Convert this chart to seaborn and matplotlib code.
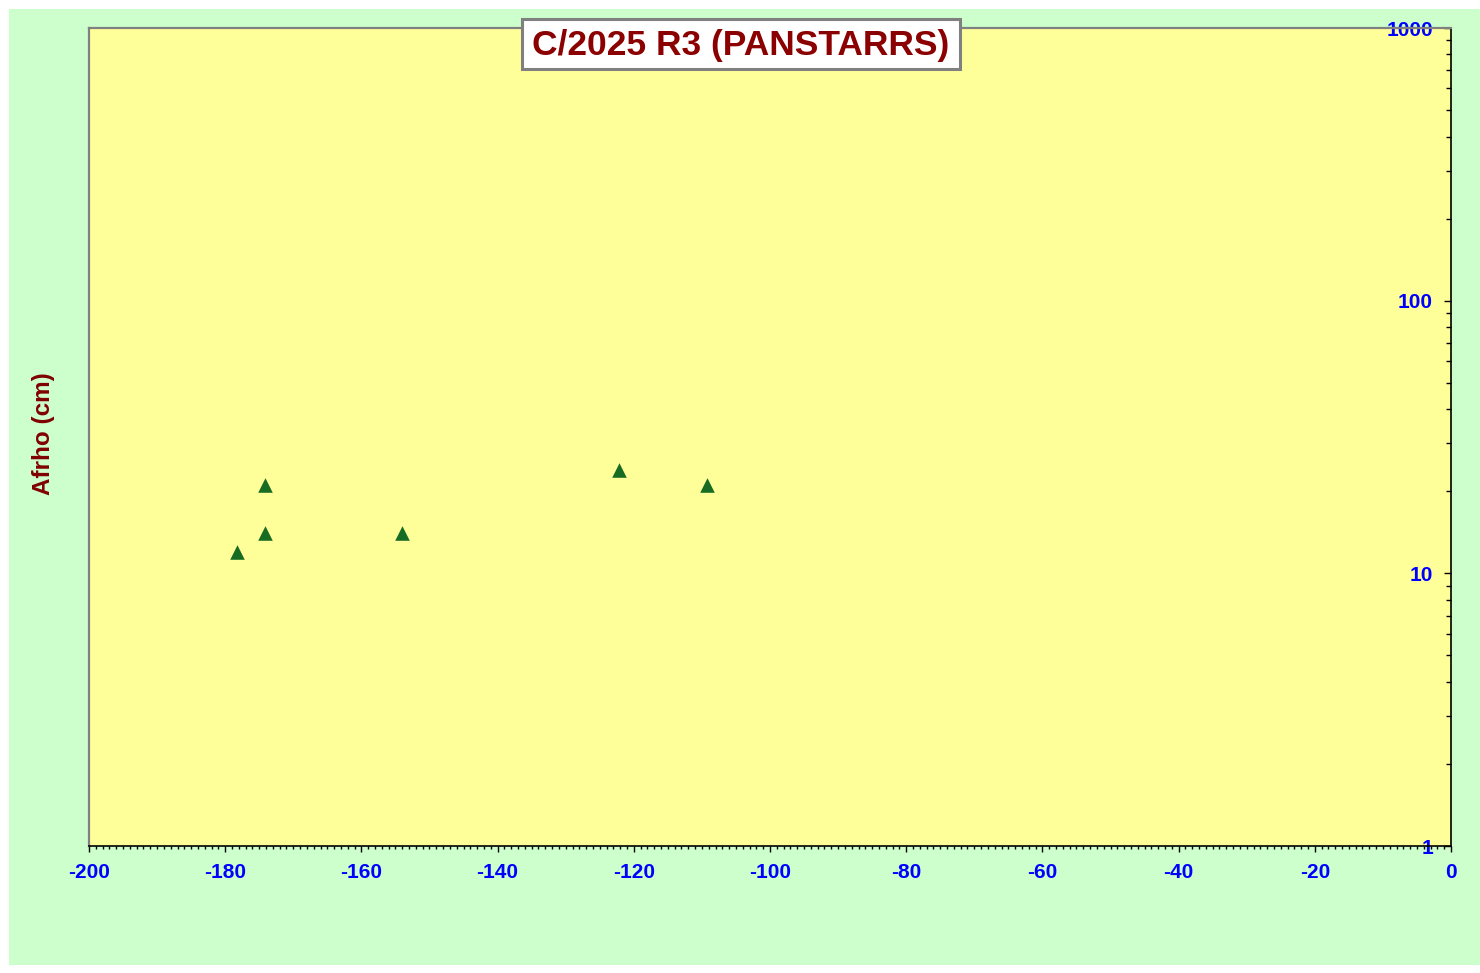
import matplotlib
matplotlib.use("Agg")
import matplotlib.pyplot as plt
from matplotlib.patches import Rectangle
from matplotlib.ticker import MultipleLocator, LogLocator, NullFormatter, FixedLocator
import seaborn as sns
import pandas as pd

# ---- data ----
days = [-178.2, -174.1, -174.1, -154.1, -122.1, -109.2]
afrho = [12, 21, 14, 14, 24, 21]
title = "C/2025 R3 (PANSTARRS)"
ylabel = "Afrho (cm)"
xticks = [-200, -180, -160, -140, -120, -100, -80, -60, -40, -20, 0]
yticks = [1, 10, 100, 1000]

sns.set_style("white")
plt.rcParams['font.family'] = ['Liberation Sans', 'DejaVu Sans']

W, H = 1480, 973
fig = plt.figure(figsize=(W / 100, H / 100), dpi=100, facecolor="white")

# green chart area
fig.patches.append(Rectangle((9 / W, 1 - 965 / H), (W - 9) / W, (965 - 9) / H,
                             transform=fig.transFigure, facecolor="#CCFFCC",
                             edgecolor="none", zorder=-10))

ax = fig.add_axes([89 / W, 1 - 846 / H, (1451 - 89) / W, (846 - 28) / H])
ax.set_facecolor("#FFFF99")

df = pd.DataFrame({"days": days, "afrho": afrho})
sns.scatterplot(data=df, x="days", y="afrho", marker="^", s=110,
                color="#176B23", edgecolor="#176B23", linewidth=0, ax=ax,
                legend=False, zorder=3)

ax.set_yscale("log")
ax.set_ylim(1, 1000)
ax.set_xlim(-200, 0)

# x axis
ax.xaxis.set_major_locator(FixedLocator(xticks))
ax.xaxis.set_minor_locator(MultipleLocator(1))
ax.set_xticklabels([str(v) for v in xticks])
ax.tick_params(axis="x", which="major", direction="out", length=4, width=1,
               color="black", bottom=True, pad=8,
               labelsize=15, labelcolor="#0000FF")
ax.tick_params(axis="x", which="minor", direction="out", length=2.5, width=1,
               color="black", bottom=True)
for lab in ax.get_xticklabels():
    lab.set_fontweight("bold")

# y axis (right, labels inside)
ax.yaxis.set_major_locator(FixedLocator(yticks))
ax.yaxis.set_minor_locator(LogLocator(base=10, subs=range(2, 10)))
ax.yaxis.set_minor_formatter(NullFormatter())
ax.set_yticklabels([str(v) for v in yticks])
ax.tick_params(axis="y", which="both", left=False, labelleft=False,
               right=True, labelright=True, direction="in", color="black")
ax.tick_params(axis="y", which="major", length=5, width=1, pad=-13.0,
               labelsize=15, labelcolor="#0000FF")
ax.tick_params(axis="y", which="minor", length=3.5, width=1)
for lab in ax.get_yticklabels():
    lab.set_fontweight("bold")
    lab.set_horizontalalignment("right")

ax.set_xlabel("")
ax.set_ylabel(ylabel, color="#800000", fontsize=17.5, fontweight="bold",
              va="center")
ax.yaxis.set_label_position("left")
ax.yaxis.set_label_coords((55 - 89) / 1362, (846 - 434) / 818)

# spines
for side in ["left", "top"]:
    ax.spines[side].set_color("#808080")
    ax.spines[side].set_linewidth(1.6)
for side in ["right", "bottom"]:
    ax.spines[side].set_color("black")
    ax.spines[side].set_linewidth(1.2)
ax.grid(False)

# title box
fig.patches.append(Rectangle((522 / W, 1 - 69 / H), (960 - 522) / W, 50 / H,
                             transform=fig.transFigure, facecolor="white",
                             edgecolor="#808080", linewidth=2.2, zorder=5))
fig.text(741 / W, 1 - 46 / H, title, ha="center", va="center",
         fontsize=25.5, fontweight="bold", color="#8B0000", zorder=6)

fig.savefig("out.png", dpi=100, facecolor="white")
